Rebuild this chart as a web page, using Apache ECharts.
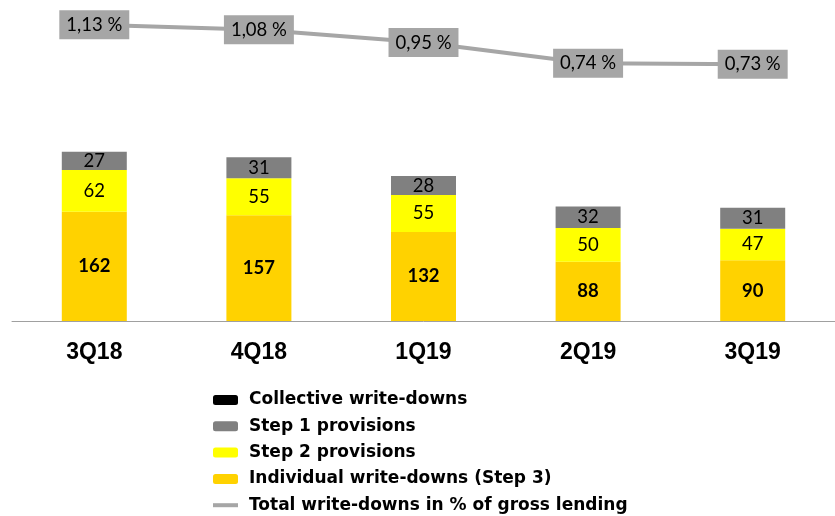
<!DOCTYPE html>
<html><head><meta charset="utf-8">
<script src="https://cdn.jsdelivr.net/npm/echarts@6/dist/echarts.min.js"></script>
<style>html,body{margin:0;padding:0;background:#fff}#c{width:835px;height:516px}</style>
</head><body><div id="c"></div>
<script>
const categories = ['3Q18','4Q18','1Q19','2Q19','3Q19'];
const collective = [];
const step1 = [27,31,28,32,31];
const step2 = [62,55,55,50,47];
const step3 = [162,157,132,88,90];
const pctGross = [1.13,1.08,0.95,0.74,0.73];
const names = ['Collective write-downs','Step 1 provisions','Step 2 provisions','Individual write-downs (Step 3)','Total write-downs in % of gross lending'];

const chart = echarts.init(document.getElementById('c'));
const lblFont = 'Lato, "Open Sans", sans-serif';
chart.setOption({
  animation:false,
  grid:{left:12, width:825, top:11, height:310},
  legend:{
    orient:'vertical', left:208, top:385, height:200, itemWidth:25, itemHeight:10, itemGap:6.3,
    textStyle:{fontFamily:'"DejaVu Sans", sans-serif', fontWeight:'bold', fontSize:17, lineHeight:20, padding:[0,0,0,6], color:'#000'},
    data:[names[0],names[1],names[2],names[3],{name:names[4], icon:'path://M0,0 L25,0 L25,4 L0,4 Z'}]
  },
  xAxis:{type:'category', data:categories,
    axisLine:{lineStyle:{color:'#a0a0a0', width:1}},
    axisTick:{length:7, lineStyle:{color:'#a0a0a0'}},
    axisLabel:{margin:20, fontFamily:'"Liberation Sans", Arial, sans-serif', fontWeight:'bold', fontSize:23, color:'#000'}
  },
  yAxis:[
    {type:'value', min:0, max:460, show:false, splitLine:{show:false}},
    {type:'value', min:-1.87, max:1.27, show:false, splitLine:{show:false}}
  ],
  series:[
    {name:names[0], type:'bar', stack:'a', data:collective, itemStyle:{color:'#000'}},
    {name:names[3], type:'bar', stack:'a', data:step3, barWidth:65, itemStyle:{color:'#FFD200'},
      label:{show:true, position:'inside', fontFamily:lblFont, fontWeight:'bold', fontSize:18.5, color:'#000'}},
    {name:names[2], type:'bar', stack:'a', data:step2, itemStyle:{color:'#FFFF00'},
      label:{show:true, position:'inside', fontFamily:lblFont, fontSize:18.5, color:'#000'}},
    {name:names[1], type:'bar', stack:'a', data:step1, itemStyle:{color:'#808080'},
      label:{show:true, position:'inside', fontFamily:lblFont, fontSize:18.5, color:'#000'}},
    {name:names[4], type:'line', yAxisIndex:1, data:pctGross, symbol:'circle', symbolSize:0.1, showSymbol:true,
      lineStyle:{color:'#a6a6a6', width:4}, itemStyle:{color:'#a6a6a6'},
      label:{show:true, position:'inside', formatter:p=>p.value.toFixed(2).replace('.',',')+' %',
        backgroundColor:'#a6a6a6', padding:[5,7,5,7], fontFamily:lblFont, fontSize:18.5, color:'#000'}}
  ]
});
</script></body></html>
